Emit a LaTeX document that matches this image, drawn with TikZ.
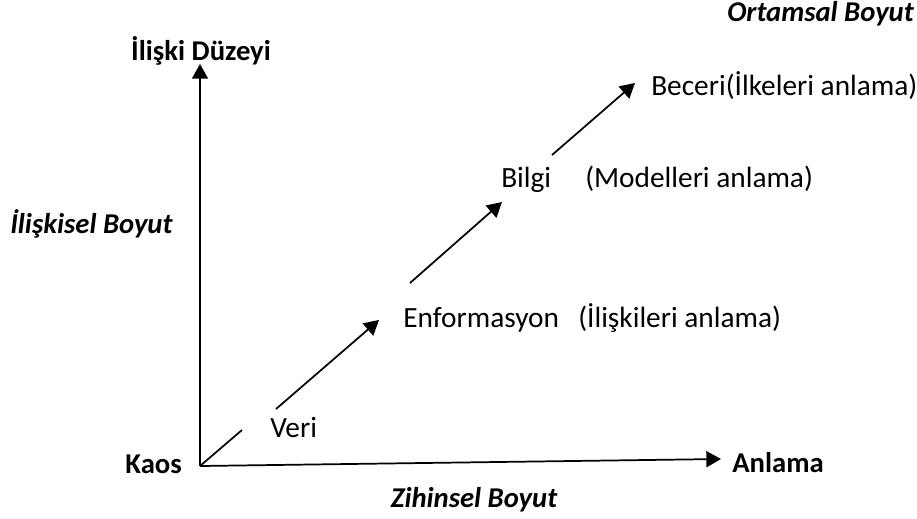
\documentclass[tikz,border=0pt]{standalone}
\usepackage{fontspec}
\setmainfont{Carlito}
\usetikzlibrary{arrows.meta}
\begin{document}
\begin{tikzpicture}[x=0.75pt,y=-0.75pt,
  lbl/.style={inner sep=0pt,font=\fontsize{22}{26}\selectfont},
  blbl/.style={lbl,font=\fontsize{21.5}{25}\selectfont\bfseries},
  bilbl/.style={lbl,font=\fontsize{21.5}{25}\selectfont\bfseries\itshape},
  axis/.style={line width=1.3pt,-{Triangle[length=11pt,width=12pt]}},
  seg/.style={line width=1.3pt},
  arr/.style={seg,-{Triangle[length=11pt,width=12pt]}}]
\useasboundingbox (0,0) rectangle (917,518);
% texts
\node[bilbl,anchor=base east] (ortam) at (914,21) {Ortamsal Boyut};
\node[blbl,anchor=base] (duzey) at (201,60) {İlişki Düzeyi};
\node[bilbl,anchor=base west] (iliskisel) at (10,233) {İlişkisel Boyut};
\node[lbl,anchor=base west] (beceri) at (651,95) {Beceri(İlkeleri anlama)};
\node[lbl,anchor=base west] (bilgi) at (501,187) {Bilgi};
\node[lbl,anchor=base west] (model) at (585,187) {(Modelleri anlama)};
\node[lbl,anchor=base west] (enfo) at (403,327) {Enformasyon};
\node[lbl,anchor=base west] (ilisk) at (578,327) {(İlişkileri anlama)};
\node[lbl,anchor=base west] (veri) at (270,437) {Veri};
\node[blbl,anchor=base east] (kaos) at (182,473) {Kaos};
\node[blbl,anchor=base west] (anlama) at (732,472) {Anlama};
\node[bilbl,anchor=base] (zihin) at (474,507) {Zihinsel Boyut};
% axes
\coordinate (O) at (200,466);
\coordinate (ytip) at (200,64);
\coordinate (xtip) at (721,459);
\draw[axis] (O) -- (ytip);
\draw[axis] (O) -- (xtip);
% diagonal steps
\coordinate (a1) at (242,430);
\coordinate (b0) at (276,409);
\coordinate (b1) at (379,320);
\coordinate (c0) at (410,283);
\coordinate (c1) at (502,202);
\coordinate (d0) at (552,155);
\coordinate (d1) at (635,83);
\draw[seg] (O) -- (a1);
\draw[arr] (b0) -- (b1);
\draw[arr] (c0) -- (c1);
\draw[arr] (d0) -- (d1);
\end{tikzpicture}
\end{document}
